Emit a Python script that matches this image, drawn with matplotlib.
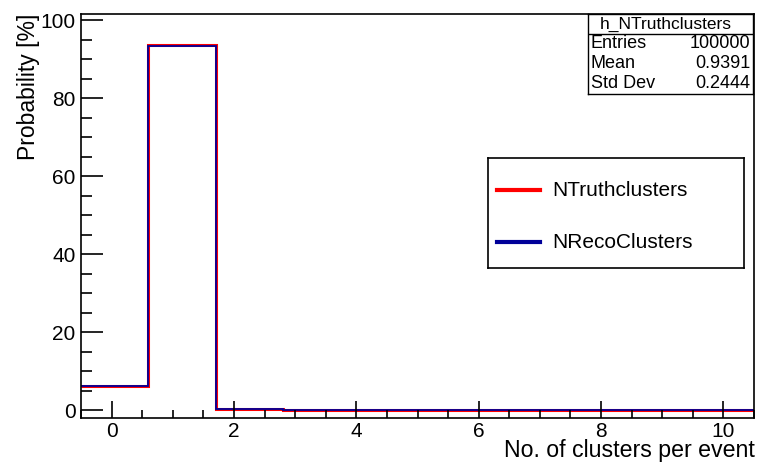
import numpy as np
import matplotlib
matplotlib.use('Agg')
import matplotlib.pyplot as plt
from matplotlib.ticker import MultipleLocator

plt.rcParams['font.family'] = ['Liberation Sans', 'DejaVu Sans']

# histogram contents (percent per bin)
bin_edges = [-0.5, 0.6, 1.7, 2.8, 3.9, 5.0, 6.1, 7.2, 8.3, 9.4, 10.5]
truth = [6.1, 93.6, 0.3, 0.0, 0.0, 0.0, 0.0, 0.0, 0.0, 0.0]
reco = [6.2, 93.35, 0.15, 0.1, 0.05, 0.05, 0.05, 0.05, 0.05, 0.05]

stats_name = 'h_NTruthclusters'
stats_rows = [('Entries', '100000'), ('Mean', '0.9391'), ('Std Dev', '0.2444')]
labels = ['NTruthclusters', 'NRecoClusters']
colors = ['#ff0000', '#000099']

W, H = 759, 462
fig = plt.figure(figsize=(W / 100, H / 100), dpi=100)


def fbox(x0, y0, x1, y1):
    # pixel box (top-left origin) -> figure fraction rect
    return [x0 / W, 1 - y1 / H, (x1 - x0) / W, (y1 - y0) / H]


ax = fig.add_axes(fbox(81, 14, 754, 418))
ax.stairs(truth, bin_edges, color=colors[0], lw=2.2, baseline=None)
ax.stairs(reco, bin_edges, color=colors[1], lw=1.3, baseline=None)
ax.set_xlim(-0.5, 10.5)
ax.set_ylim(-2.05, 101.6)

ax.xaxis.set_major_locator(MultipleLocator(2))
ax.xaxis.set_minor_locator(MultipleLocator(0.5))
ax.yaxis.set_major_locator(MultipleLocator(20))
ax.yaxis.set_minor_locator(MultipleLocator(5))
ax.tick_params(which='both', direction='in', width=1.2, labelsize=15, colors='black')
ax.tick_params(axis='y', which='major', length=16, pad=4)
ax.tick_params(axis='y', which='minor', length=8)
ax.tick_params(axis='x', which='major', length=12, pad=3)
ax.tick_params(axis='x', which='minor', length=6)
for s in ax.spines.values():
    s.set_linewidth(1.2)

fig.text(755 / W, 1 - 457 / H, 'No. of clusters per event', ha='right', va='baseline', fontsize=16.7)
fig.text(29 / W, 1 - 14 / H, 'Probability [%]', ha='center', va='top', rotation=90, fontsize=16.5)

# stats box
sb = fig.add_axes(fbox(588, 14, 753, 94))
sb.set_xticks([])
sb.set_yticks([])
sb.set_xlim(0, 165)
sb.set_ylim(80, 0)
for s in sb.spines.values():
    s.set_linewidth(1)
sb.axhline(20, color='black', lw=1)
sb.text(78, 10, stats_name, ha='center', va='center', fontsize=12.5)
for i, (k, v) in enumerate(stats_rows):
    yy = 29.5 + i * 20
    sb.text(3, yy, k, ha='left', va='center', fontsize=13)
    sb.text(162, yy, v, ha='right', va='center', fontsize=13)

# legend box
lb = fig.add_axes(fbox(488, 158, 744, 268))
lb.set_xticks([])
lb.set_yticks([])
lb.set_xlim(0, 256)
lb.set_ylim(110, 0)
for s in lb.spines.values():
    s.set_linewidth(1.2)
for i, (lab, col) in enumerate(zip(labels, colors)):
    yy = 32 + i * 52
    lb.plot([9, 52], [yy, yy], color=col, lw=3)
    lb.text(64, yy, lab, ha='left', va='center', fontsize=15)

fig.savefig('out.png', dpi=100)
